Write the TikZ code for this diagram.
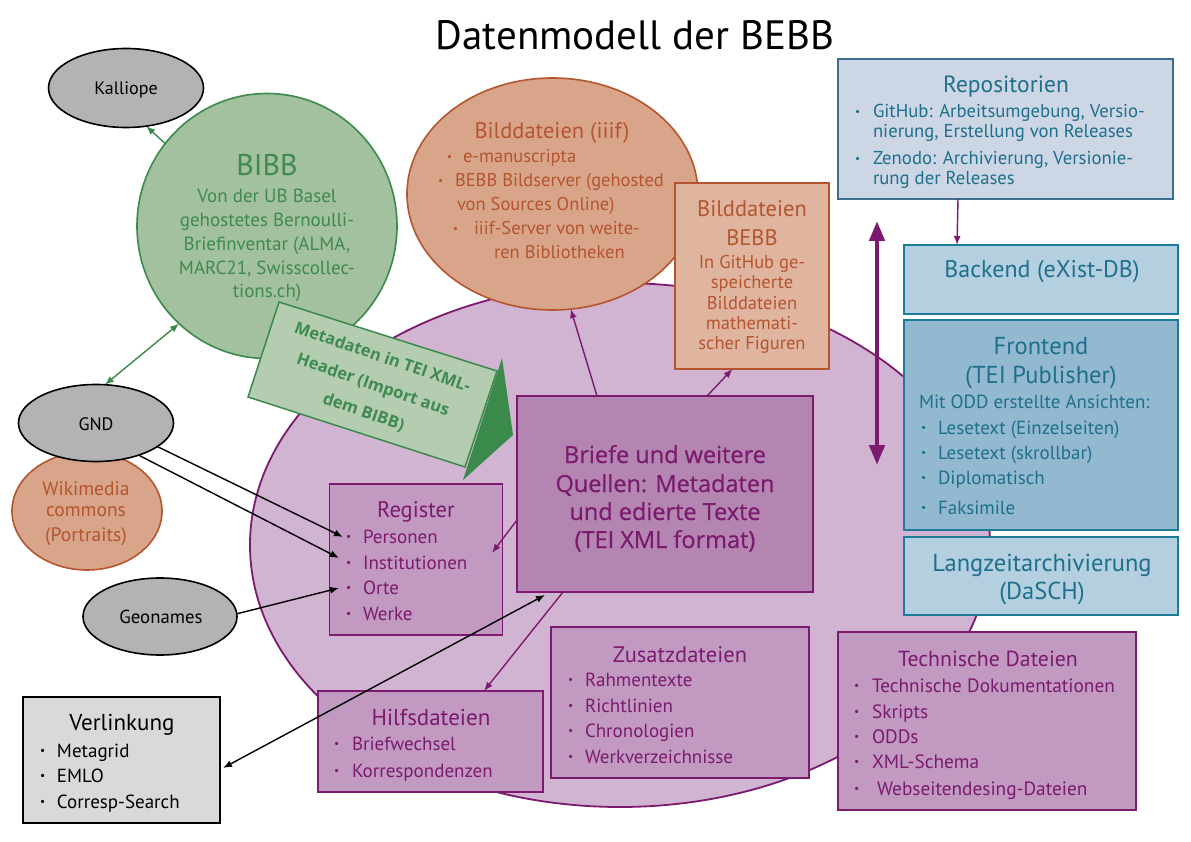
\documentclass[tikz,border=0pt]{standalone}
\usepackage{fontspec}
\setmainfont{PT Sans}
\newfontfamily\osans{Open Sans}
\newfontfamily\osansm{Open Sans}[FakeBold=0.6]
\usetikzlibrary{shapes.geometric,arrows.meta,calc}
\definecolor{grayfill}{HTML}{B3B3B3}
\definecolor{bibbfill}{HTML}{A3C09F}
\definecolor{greenline}{HTML}{3A8A4C}
\definecolor{greentext}{HTML}{3F8A50}
\definecolor{metafill}{HTML}{B4CDB0}
\definecolor{salmon}{HTML}{D8A58B}
\definecolor{salmonlight}{HTML}{DFB5A0}
\definecolor{rust}{HTML}{B5552F}
\definecolor{lilac}{HTML}{D1B4D1}
\definecolor{plum}{HTML}{7B1A6E}
\definecolor{mauve}{HTML}{B385B0}
\definecolor{mauvelight}{HTML}{C29AC1}
\definecolor{repofill}{HTML}{CCD6E4}
\definecolor{repoline}{HTML}{3D6D8F}
\definecolor{tealtext}{HTML}{1E6F8C}
\definecolor{bluelight}{HTML}{B4CFDF}
\definecolor{bluemid}{HTML}{93B9D0}
\definecolor{blueline}{HTML}{1C7B99}
\definecolor{verlfill}{HTML}{D9D9D9}
\newcommand\fsz[1]{\fontsize{#1}{#1}\selectfont}
\newcommand\bu[1]{\makebox[#1][l]{\raisebox{0.12em}{\scalebox{0.6}{\textbullet}}}}
\begin{document}
\begin{tikzpicture}[x=1pt,y=-1pt,
  tx/.style={inner sep=0pt, outer sep=0pt},
  ell/.style={ellipse, inner sep=0pt, outer sep=0pt, line width=1.6pt},
  bx/.style={rectangle, inner sep=0pt, outer sep=0pt, line width=1.5pt},
  arr/.style={line width=1.4pt, -{Latex[length=9pt,width=7pt]}},
  darr/.style={line width=1.4pt, {Latex[length=9pt,width=7pt]}-{Latex[length=9pt,width=7pt]}},
  pl/.style={text=plum},
]
\useasboundingbox (0,0) rectangle (1191,842);
\fill[white] (0,0) rectangle (1191,842);

% title
\node[tx, anchor=base, font=\fsz{41}] (title) at (635,50) {Datenmodell der BEBB};

% big ellipse
\node[ell, draw=plum, fill=lilac, line width=1.8pt, minimum width=740pt, minimum height=524pt] (big) at (620,545) {};

% Bilddateien iiif
\node[ell, draw=rust, fill=salmon, minimum width=291pt, minimum height=232pt] (bild) at (552.5,194) {};
\node[tx, anchor=base, font=\fsz{22.5}, text=rust] (bildt) at (552,139) {Bilddateien (iiif)};
\node[tx, anchor=base west, font=\fsz{18.5}, text=rust] (bild1) at (447,163) {\bu{16pt}e-manuscripta};
\node[tx, anchor=base west, font=\fsz{18.5}, text=rust] (bild2) at (438,187) {\bu{17pt}BEBB Bildserver (gehosted};
\node[tx, anchor=base west, font=\fsz{18.5}, text=rust] (bild3) at (457,211) {von Sources Online)};
\node[tx, anchor=base west, font=\fsz{18.5}, text=rust] (bild4) at (453,235) {\bu{21pt}iiif-Server von weite-};
\node[tx, anchor=base west, font=\fsz{18.5}, text=rust] (bild5) at (494,259) {ren Bibliotheken};

% Bilddateien BEBB
\node[bx, draw=rust, fill=salmonlight, minimum width=154pt, minimum height=186pt] (bebb) at (752,276) {};
\node[tx, anchor=base, font=\fsz{22.5}, text=rust] (bebb1) at (752,217) {Bilddateien};
\node[tx, anchor=base, font=\fsz{22.5}, text=rust] (bebb2) at (752,246) {BEBB};
\foreach \t/\y [count=\i] in {In GitHub ge-/269, speicherte/289, Bilddateien/309, mathemati-/329, scher Figuren/349}
  \node[tx, anchor=base, font=\fsz{18.5}, text=rust] (bebbl\i) at (752,\y) {\t};

% BIBB
\node[ell, draw=greenline, fill=bibbfill, minimum width=260pt, minimum height=265pt] (bibb) at (267,226) {};
\node[tx, anchor=base, font=\fsz{30}, text=greentext] (bibbt) at (267,176) {BIBB};
\foreach \t/\y [count=\i] in {Von der UB Basel/203, gehostetes Bernoulli-/227, {Briefinventar (ALMA,}/251, {MARC21, Swisscollec-}/275, tions.ch)/298}
  \node[tx, anchor=base, font=\fsz{19}, text=greentext] (bibbl\i) at (267,\y) {\t};

% Metadaten shape
\draw[line width=1.5pt, draw=greenline, fill=metafill] (279,302) -- (497,371) -- (465,467) -- (248,397) -- cycle;
\fill[greenline] (502,358) -- (513,435) -- (463,480) -- cycle;
\node[tx, rotate=-19, align=center, font=\osans\bfseries\fontsize{16.5}{29}\selectfont, text=greentext] (meta) at (373,385) {Metadaten in TEI XML-\\Header (Import aus\\dem BIBB)};

% grey ellipses and Wikimedia
\node[ell, draw=black, fill=grayfill, minimum width=155pt, minimum height=79pt] (kal) at (126,88) {};
\node[tx, anchor=base, font=\fsz{18}] (kalt) at (126,95) {Kalliope};
\node[ell, draw=rust, fill=salmon, minimum width=150pt, minimum height=118pt] (wiki) at (87,511) {};
\foreach \t/\y [count=\i] in {Wikimedia/495, commons/516, (Portraits)/541}
  \node[tx, anchor=base, font=\fsz{19.5}, text=rust] (wikil\i) at (86,\y) {\t};
\node[ell, draw=black, fill=grayfill, minimum width=155pt, minimum height=77pt] (gnd) at (96,423) {};
\node[tx, anchor=base, font=\fsz{18}] (gndt) at (96,430) {GND};
\node[ell, draw=black, fill=grayfill, minimum width=154pt, minimum height=77pt] (geo) at (160,616.5) {};
\node[tx, anchor=base, font=\fsz{18.8}] (geot) at (161,623) {Geonames};

% Verlinkung
\node[bx, draw=black, fill=verlfill, minimum width=197pt, minimum height=126pt] (verl) at (121.5,760) {};
\node[tx, anchor=base, font=\fsz{23}] (verlt) at (122,730) {Verlinkung};
\foreach \t/\y [count=\i] in {Metagrid/757, EMLO/782, Corresp-Search/808}
  \node[tx, anchor=base west, font=\fsz{19}] (verl\i) at (40,\y) {\bu{17pt}\t};

% Register
\node[bx, draw=plum, fill=mauvelight, minimum width=173pt, minimum height=151pt] (reg) at (416,559.5) {};
\node[tx, anchor=base, font=\fsz{22.5}, pl] (regt) at (416,517) {Register};
\foreach \t/\y [count=\i] in {Personen/543, Institutionen/569, Orte/594, Werke/620}
  \node[tx, anchor=base west, font=\fsz{19}, pl] (reg\i) at (346,\y) {\bu{17pt}\t};

% Briefe
\node[bx, draw=plum, fill=mauve, minimum width=296pt, minimum height=196pt] (briefe) at (665,494) {};
\foreach \t/\y [count=\i] in {Briefe und weitere/463, Quellen: Metadaten/492, und edierte Texte/520, (TEI XML format)/548}
  \node[tx, anchor=base, font=\osansm\fsz{23.5}, pl] (briefel\i) at (665,\y) {\t};

% Hilfsdateien
\node[bx, draw=plum, fill=mauvelight, minimum width=225pt, minimum height=101pt] (hilf) at (430.5,741.5) {};
\node[tx, anchor=base, font=\fsz{23}, pl] (hilft) at (431,725) {Hilfsdateien};
\foreach \t/\y [count=\i] in {Briefwechsel/750, Korrespondenzen/777}
  \node[tx, anchor=base west, font=\fsz{19}, pl] (hilf\i) at (334,\y) {\bu{18pt}\t};

% Zusatzdateien
\node[bx, draw=plum, fill=mauvelight, minimum width=258pt, minimum height=151pt] (zus) at (680,702.5) {};
\node[tx, anchor=base, font=\fsz{22.5}, pl] (zust) at (680,662) {Zusatzdateien};
\foreach \t/\y [count=\i] in {Rahmentexte/686, Richtlinien/712, Chronologien/737, Werkverzeichnisse/763}
  \node[tx, anchor=base west, font=\fsz{19}, pl] (zus\i) at (568,\y) {\bu{17pt}\t};

% Technische Dateien
\node[bx, draw=plum, fill=mauvelight, minimum width=298pt, minimum height=178pt] (tech) at (987,721) {};
\node[tx, anchor=base, font=\fsz{21.8}, pl] (techt) at (988,666) {Technische Dateien};
\foreach \t/\y [count=\i] in {Technische Dokumentationen/692, Skripts/718, ODDs/743, XML-Schema/768}
  \node[tx, anchor=base west, font=\fsz{19.3}, pl] (tech\i) at (854,\y) {\bu{18pt}\t};
\node[tx, anchor=base west, font=\fsz{19.3}, pl] (tech5) at (854,795) {\bu{23pt}Webseitendesing-Dateien};

% right column
\node[bx, draw=repoline, fill=repofill, minimum width=335pt, minimum height=140pt] (repo) at (1005.5,129) {};
\node[tx, anchor=base, font=\fsz{23.5}, text=tealtext] (repot) at (1006,93) {Repositorien};
\node[tx, anchor=base west, font=\fsz{18.7}, text=tealtext] (repo1) at (855,118) {\bu{18pt}GitHub: Arbeitsumgebung, Versio-};
\node[tx, anchor=base west, font=\fsz{18.7}, text=tealtext] (repo2) at (873,138) {nierung, Erstellung von Releases};
\node[tx, anchor=base west, font=\fsz{18.7}, text=tealtext] (repo3) at (855,165) {\bu{18pt}Zenodo: Archivierung, Versionie-};
\node[tx, anchor=base west, font=\fsz{18.7}, text=tealtext] (repo4) at (873,185) {rung der Releases};

\node[bx, draw=blueline, fill=bluelight, minimum width=274pt, minimum height=69pt] (back) at (1041,279.5) {};
\node[tx, anchor=base, font=\fsz{24}, text=tealtext] (backt) at (1042,278) {Backend (eXist-DB)};

\node[bx, draw=blueline, fill=bluemid, minimum width=274pt, minimum height=210pt] (front) at (1041,425) {};
\node[tx, anchor=base, font=\fsz{24.5}, text=tealtext] (frontt1) at (1041,354) {Frontend};
\node[tx, anchor=base, font=\fsz{24.5}, text=tealtext] (frontt2) at (1041,383) {(TEI Publisher)};
\node[tx, anchor=base west, font=\fsz{19}, text=tealtext] (frontm) at (919,408) {Mit ODD erstellte Ansichten:};
\foreach \t/\y [count=\i] in {Lesetext (Einzelseiten)/434, Lesetext (skrollbar)/459, Diplomatisch/484, Faksimile/514}
  \node[tx, anchor=base west, font=\fsz{19}, text=tealtext] (front\i) at (921,\y) {\bu{17pt}\t};

\node[bx, draw=blueline, fill=bluelight, minimum width=274pt, minimum height=78pt] (lza) at (1041,576) {};
\node[tx, anchor=base, font=\fsz{24.5}, text=tealtext] (lza1) at (1042,571) {Langzeitarchivierung};
\node[tx, anchor=base, font=\fsz{24.5}, text=tealtext] (lza2) at (1042,599) {(DaSCH)};

% connectors
\draw[arr, greenline] (bibb.141) -- (kal.-62);
\draw[darr, greenline] (gnd.77) -- (bibb.-132);
\draw[arr, black] (gnd.-21) -- ([xshift=13.5pt,yshift=22.5pt]reg.west);
\draw[arr, black] (gnd.-37) -- ([xshift=9.5pt,yshift=1.5pt]reg.west);
\draw[arr, black] (geo.2) -- ([xshift=9.5pt,yshift=-28.5pt]reg.west);
\draw[darr, black] ([xshift=28pt,yshift=-3pt]briefe.south west) -- ([xshift=3pt,yshift=-8pt]verl.east);
\draw[arr, plum] ([yshift=-26pt]briefe.west) -- ([xshift=-10.5pt,yshift=6.5pt]reg.east);
\draw[arr, plum] ([xshift=46pt]briefe.south west) -- ([xshift=53.5pt]hilf.north);
\draw[arr, plum] ([xshift=80pt]briefe.north west) -- (bild.-81);
\draw[arr, plum] ([xshift=190pt]briefe.north west) -- ([xshift=-19.5pt]bebb.south);
\draw[arr, plum] ([xshift=-47.5pt]repo.south) -- ([xshift=-84pt]back.north);
\coordinate (da1) at (877,221);
\coordinate (da2) at (877,465);
\draw[plum, line width=4.5pt, {Triangle[length=20pt,width=15pt]}-{Triangle[length=20pt,width=15pt]}] (da1) -- (da2);
\end{tikzpicture}
\end{document}
